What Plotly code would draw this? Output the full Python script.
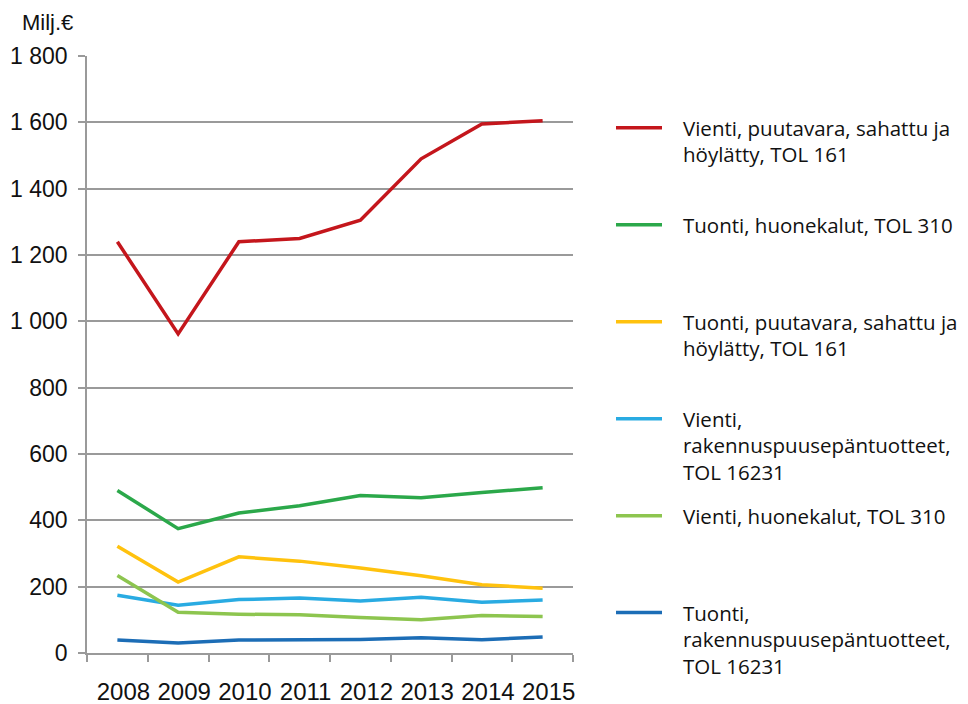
import plotly.graph_objects as go

years = ["2008", "2009", "2010", "2011", "2012", "2013", "2014", "2015"]

vienti_puutavara = [1240, 962, 1240, 1250, 1305, 1490, 1595, 1605]
tuonti_huonekalut = [490, 375, 422, 444, 475, 468, 484, 498]
tuonti_puutavara = [322, 214, 290, 277, 256, 233, 206, 195]
vienti_rakennus = [174, 144, 161, 166, 157, 168, 153, 160]
vienti_huonekalut = [234, 123, 117, 115, 107, 100, 113, 110]
tuonti_rakennus = [39, 30, 39, 41, 41, 46, 40, 48]

series_names = [
    ["Vienti, puutavara, sahattu ja", "höylätty, TOL 161"],
    ["Tuonti, huonekalut, TOL 310"],
    ["Tuonti, puutavara, sahattu ja", "höylätty, TOL 161"],
    ["Vienti,", "rakennuspuusepäntuotteet,", "TOL 16231"],
    ["Vienti, huonekalut, TOL 310"],
    ["Tuonti,", "rakennuspuusepäntuotteet,", "TOL 16231"],
]
series_values = [vienti_puutavara, tuonti_huonekalut, tuonti_puutavara,
                 vienti_rakennus, vienti_huonekalut, tuonti_rakennus]
colors = ["#C4161C", "#2BA84A", "#FFC20E", "#29ABE2", "#8DC54F", "#1C6DB6"]

y_ticks = list(range(0, 1801, 200))
y_tick_text = ["0", "200", "400", "600", "800", "1 000", "1 200", "1 400", "1 600", "1 800"]

fig = go.Figure()
MAXLINES = 3
PAD = "&nbsp;" * 3
for i, (lines, vals, col) in enumerate(zip(series_names, series_values, colors)):
    padded = [PAD + ln for ln in lines] + [PAD] * (MAXLINES - len(lines))
    label = "<br>".join(padded)
    fig.add_trace(go.Scatter(x=years, y=vals, mode="lines", name=label,
                             legendgroup=f"g{i}",
                             line=dict(color=col, width=3.5)))

W, H = 960, 696
grid = "#9A9A9A"
fig.update_layout(
    width=W, height=H,
    margin=dict(l=79, r=395, t=48, b=51, autoexpand=False),
    plot_bgcolor="white", paper_bgcolor="white",
    font=dict(family="Liberation Sans, Arial", size=23, color="#111111"),
    showlegend=True,
    legend=dict(
        xref="container", yref="container",
        x=603 / W, y=1 - 100 / H, xanchor="left", yanchor="top",
        valign="top", itemwidth=46, tracegroupgap=14,
        font=dict(family="Open Sans", size=20.5, color="#111111"),
        bgcolor="rgba(0,0,0,0)", maxheight=690,
    ),
    annotations=[dict(text="Milj.€", xref="paper", yref="paper",
                      x=-0.026, y=1.0564, xanchor="right", yanchor="middle",
                      showarrow=False, borderpad=0, font=dict(size=22))],
)
fig.update_xaxes(
    type="category", range=[-0.5, 7.5], tickson="boundaries",
    ticks="outside", ticklen=7, tickcolor=grid, tickwidth=1.5,
    showline=True, linecolor=grid, linewidth=1.5,
    showgrid=False, ticklabelstandoff=16, tickangle=0,
    ticklabelshift=6, tickfont=dict(size=24),
)
fig.update_yaxes(
    range=[0, 1800], tickvals=y_ticks, ticktext=y_tick_text,
    ticks="outside", ticklen=7, tickcolor=grid, tickwidth=1.5,
    showline=True, linecolor=grid, linewidth=1.5,
    showgrid=True, gridcolor=grid, gridwidth=1.5, zeroline=False,
    ticklabelstandoff=6,
)

fig.write_html("out.html")
